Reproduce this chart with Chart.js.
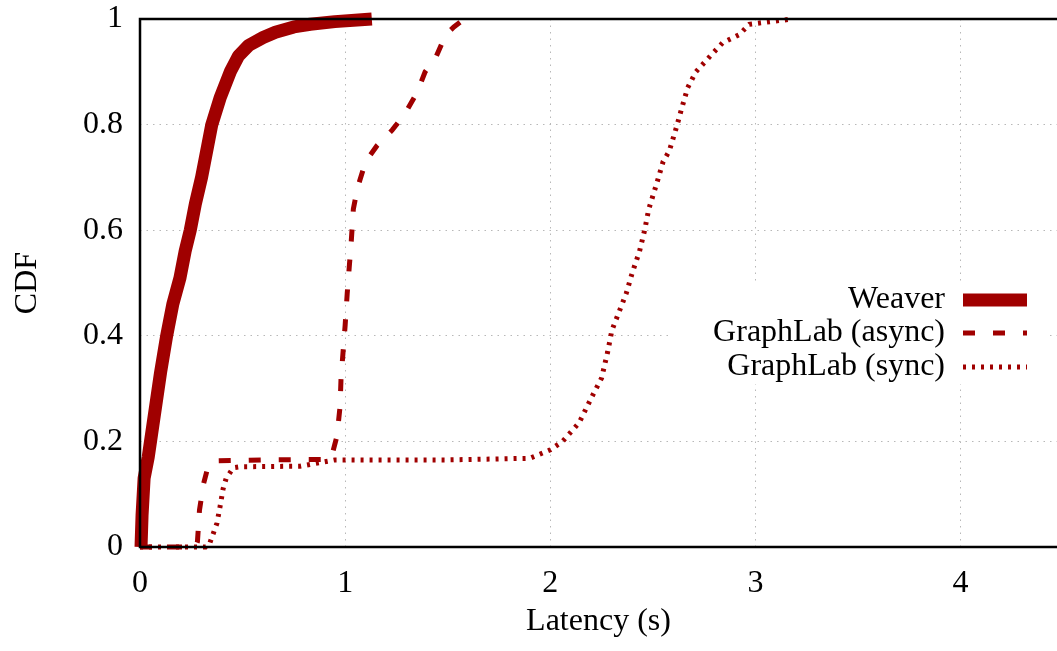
<!DOCTYPE html>
<html>
<head>
<meta charset="utf-8">
<script src="https://cdn.jsdelivr.net/npm/chart.js@4.4.0/dist/chart.umd.min.js"></script>
<style>
body { margin: 0; background: #fff; }
</style>
</head>
<body>
<canvas id="cdfChart" width="1057" height="651"></canvas>
<script>
// series values (latency in s, CDF)
const weaverX = [0.005, 0.01, 0.02, 0.04, 0.07, 0.10, 0.13, 0.16, 0.195, 0.22, 0.245, 0.27, 0.30, 0.33, 0.35, 0.39, 0.44, 0.48, 0.53, 0.60, 0.66, 0.75, 0.83, 0.95, 1.13];
const weaverY = [0, 0.06, 0.13, 0.17, 0.25, 0.33, 0.40, 0.46, 0.51, 0.56, 0.60, 0.65, 0.70, 0.76, 0.80, 0.85, 0.90, 0.93, 0.95, 0.965, 0.975, 0.985, 0.99, 0.995, 1.0];

const asyncX = [0, 0.27, 0.28, 0.29, 0.31, 0.33, 0.36, 0.60, 0.92, 0.94, 0.96, 0.975, 0.98, 0.99, 1.0, 1.01, 1.02, 1.03, 1.04, 1.06, 1.10, 1.155, 1.23, 1.29, 1.35, 1.39, 1.445, 1.49, 1.53, 1.57, 1.58];
const asyncY = [0, 0, 0.01, 0.07, 0.12, 0.15, 0.163, 0.165, 0.166, 0.18, 0.21, 0.265, 0.32, 0.37, 0.42, 0.48, 0.53, 0.58, 0.64, 0.68, 0.73, 0.76, 0.79, 0.82, 0.86, 0.90, 0.93, 0.97, 0.985, 0.997, 1.0];

const syncX = [0, 0.32, 0.34, 0.375, 0.39, 0.405, 0.42, 0.455, 0.49, 0.78, 0.88, 0.95, 1.5, 1.9, 2.0, 2.06, 2.14, 2.21, 2.25, 2.28, 2.30, 2.34, 2.37, 2.40, 2.435, 2.46, 2.48, 2.52, 2.55, 2.58, 2.615, 2.64, 2.67, 2.71, 2.78, 2.84, 2.92, 2.97, 3.03, 3.18];
const syncY = [0, 0, 0.007, 0.045, 0.076, 0.11, 0.13, 0.15, 0.152, 0.153, 0.16, 0.165, 0.165, 0.168, 0.184, 0.20, 0.235, 0.29, 0.32, 0.37, 0.41, 0.45, 0.48, 0.52, 0.56, 0.60, 0.64, 0.69, 0.73, 0.75, 0.795, 0.83, 0.87, 0.90, 0.93, 0.955, 0.97, 0.99, 0.993, 1.0];

const seriesNames = ['Weaver', 'GraphLab (async)', 'GraphLab (sync)'];

// axis ticks
const xTicks = [0, 1, 2, 3, 4];
const xTickLabels = ['0', '1', '2', '3', '4'];
const yTicks = [0, 0.2, 0.4, 0.6, 0.8, 1];
const yTickLabels = ['0', '0.2', '0.4', '0.6', '0.8', '1'];

const red = '#a00000';
const font = { family: 'Liberation Serif', size: 32 };

function toPoints(xs, ys) {
    return xs.map((x, i) => ({ x: x, y: ys[i] }));
}

// frame + legend drawn on top of the curves, like gnuplot
const framePlugin = {
    id: 'frame',
    afterDatasetsDraw(chart) {
        const ctx = chart.ctx;
        const a = chart.chartArea;
        ctx.save();

        // legend box (opaque, hides the grid)
        ctx.fillStyle = '#fff';
        ctx.fillRect(672, 284, 373, 100);

        const rows = [300, 333, 367];
        ctx.font = font.size + 'px ' + font.family;
        ctx.textAlign = 'right';
        ctx.textBaseline = 'middle';
        chart.data.datasets.forEach((ds, i) => {
            ctx.fillStyle = '#000';
            ctx.fillText(ds.label, 945, rows[i]);
            ctx.strokeStyle = ds.borderColor;
            ctx.lineWidth = ds.borderWidth;
            ctx.lineCap = 'butt';
            ctx.setLineDash(ds.borderDash || []);
            ctx.beginPath();
            ctx.moveTo(963, rows[i]);
            ctx.lineTo(1027, rows[i]);
            ctx.stroke();
        });

        // border
        ctx.setLineDash([]);
        ctx.strokeStyle = '#000';
        ctx.lineWidth = 2.5;
        ctx.beginPath();
        ctx.moveTo(a.right + 2, a.top);
        ctx.lineTo(a.left, a.top);
        ctx.lineTo(a.left, a.bottom);
        ctx.lineTo(a.right + 2, a.bottom);
        ctx.stroke();
        ctx.restore();
    }
};

const ctx = document.getElementById('cdfChart').getContext('2d');

const cdfChart = new Chart(ctx, {
    type: 'scatter',
    data: {
        datasets: [{
            label: seriesNames[0],
            data: toPoints(weaverX, weaverY),
            borderColor: red,
            borderWidth: 13,
            borderJoinStyle: 'bevel',
            showLine: true,
            pointRadius: 0,
            clip: false
        }, {
            label: seriesNames[1],
            data: toPoints(asyncX, asyncY),
            borderColor: red,
            borderWidth: 5,
            borderDash: [12, 18],
            showLine: true,
            pointRadius: 0,
            clip: false
        }, {
            label: seriesNames[2],
            data: toPoints(syncX, syncY),
            borderColor: red,
            borderWidth: 5,
            borderDash: [3, 6],
            showLine: true,
            pointRadius: 0,
            clip: false
        }]
    },
    options: {
        responsive: false,
        animation: false,
        layout: { padding: 0 },
        plugins: {
            legend: { display: false },
            tooltip: { enabled: false }
        },
        scales: {
            x: {
                type: 'linear',
                min: 0,
                max: 4.47,
                afterFit: s => { s.height = 104; },
                afterBuildTicks: s => { s.ticks = xTicks.map(v => ({ value: v })); },
                ticks: {
                    callback: (v, i) => xTickLabels[i],
                    font: font,
                    color: '#000',
                    padding: 17,
                    maxRotation: 0,
                    autoSkip: false
                },
                grid: { color: '#b8b8b8', lineWidth: 1, drawTicks: false },
                border: { display: false, dash: [1.5, 5] },
                title: {
                    display: true,
                    text: 'Latency (s)',
                    font: font,
                    color: '#000',
                    padding: { top: 0, bottom: 10 }
                }
            },
            y: {
                type: 'linear',
                min: 0,
                max: 1,
                afterFit: s => { s.width = 140; s.paddingTop = 19; },
                afterBuildTicks: s => { s.ticks = yTicks.map(v => ({ value: v })); },
                ticks: {
                    callback: (v, i) => yTickLabels[i],
                    font: font,
                    color: '#000',
                    padding: 17,
                    autoSkip: false
                },
                grid: { color: '#b8b8b8', lineWidth: 1, drawTicks: false },
                border: { display: false, dash: [1.5, 5] },
                title: {
                    display: true,
                    text: 'CDF',
                    font: font,
                    color: '#000',
                    padding: { top: 8, bottom: 0 }
                }
            }
        }
    },
    plugins: [framePlugin]
});
</script>
</body>
</html>
